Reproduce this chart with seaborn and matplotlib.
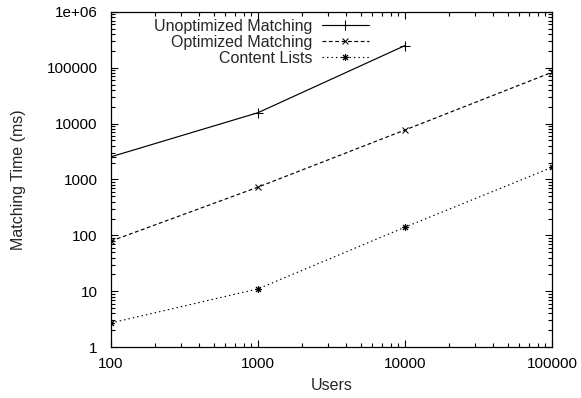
import matplotlib
matplotlib.use("Agg")
import matplotlib.pyplot as plt
import matplotlib.ticker as mticker
import seaborn as sns
import pandas as pd

users = [100, 1000, 10000, 100000]
unoptimized = [2550, 15700, 250000, None]
optimized = [79, 730, 7700, 83000]
content_lists = [2.7, 11, 140, 1650]

sns.set_style("ticks")
plt.rcParams["font.family"] = ["Liberation Sans", "DejaVu Sans"]
plt.rcParams["font.size"] = 11

fig = plt.figure(figsize=(5.81, 3.98), dpi=100)
ax = fig.add_axes([0.191, 0.128, 0.759, 0.842])

series = [
    ("Unoptimized Matching", unoptimized, "-", "+", 6.5),
    ("Optimized Matching", optimized, (0, (3.2, 2.2)), "x", 5),
    ("Content Lists", content_lists, (0, (1.2, 2.6)), (8, 2, 0), 5),
]
for name, vals, ls, mk, ms in series:
    df = pd.DataFrame({"Users": users, "Time": vals}).dropna()
    sns.lineplot(data=df, x="Users", y="Time", ax=ax, color="black", linewidth=0.85,
                 linestyle=ls, marker=mk, markersize=ms, markeredgewidth=0.75,
                 markeredgecolor="black", label=name)

ax.set_xscale("log")
ax.set_yscale("log")
ax.set_xlim(100, 100000)
ax.set_ylim(1, 1e6)
fmt = mticker.FuncFormatter(lambda v, p: "%g" % v)
ax.xaxis.set_major_formatter(fmt)
ax.yaxis.set_major_formatter(fmt)
ax.xaxis.set_minor_formatter(mticker.NullFormatter())
ax.yaxis.set_minor_formatter(mticker.NullFormatter())
ax.tick_params(which="both", direction="in", top=True, right=True, width=0.8, colors="black")
ax.tick_params(which="major", length=5, labelsize=11)
ax.tick_params(which="minor", length=2.6)
ax.tick_params(axis="x", which="major", pad=7.5)
ax.tick_params(axis="y", which="major", pad=9.5)
for s in ax.spines.values():
    s.set_linewidth(0.9)
    s.set_color("black")
    s.set_visible(True)

ax.set_xlabel("Users", fontsize=11.5)
ax.set_ylabel("Matching Time (ms)", fontsize=11.5)
ax.xaxis.set_label_coords(0.5, -0.093)
ax.yaxis.set_label_coords(-0.192, 0.5)

leg = ax.legend(loc="upper right", bbox_to_anchor=(0.648, 0.973), bbox_transform=fig.transFigure,
                frameon=False, markerfirst=False, handlelength=2.9, handletextpad=0.62,
                labelspacing=0.07, borderpad=0, fontsize=11.5)

fig.savefig("out.png", dpi=100)
